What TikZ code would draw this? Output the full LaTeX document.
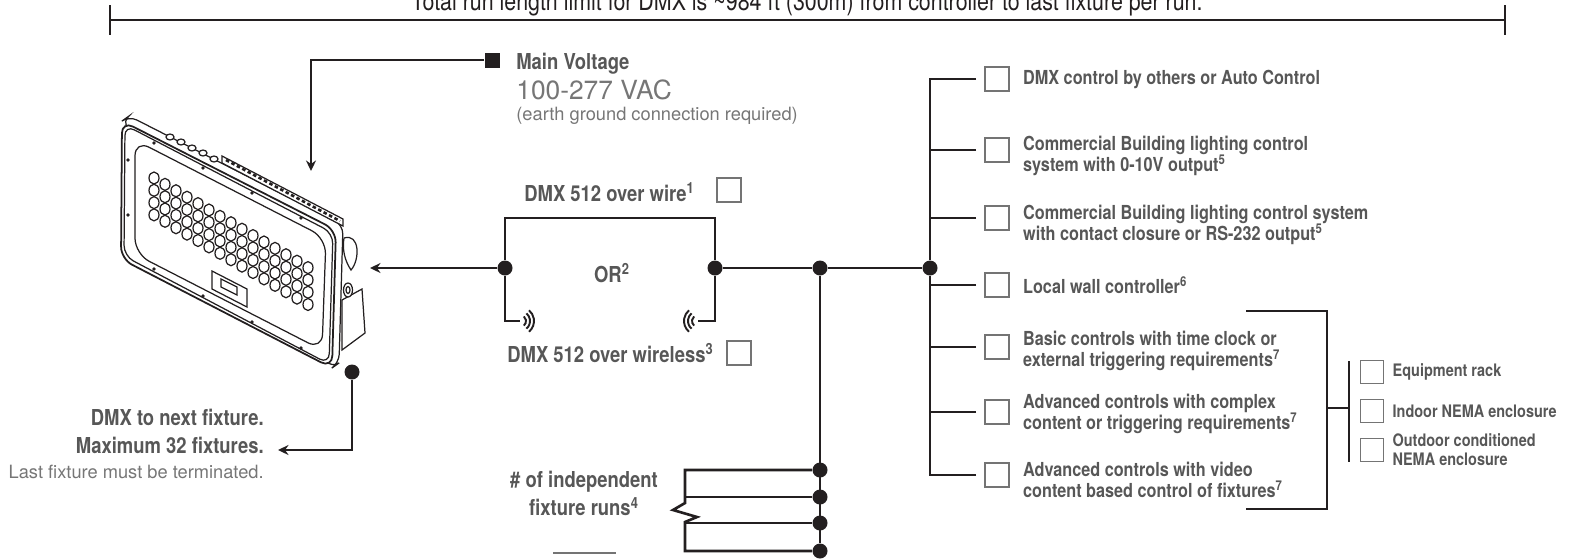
\documentclass[tikz,border=0pt]{standalone}
\usepackage{fontspec}
\setmainfont{TeX Gyre Heros}
\newfontfamily\cnd[FakeStretch=0.84]{TeX Gyre Heros}
\usetikzlibrary{positioning,arrows.meta}
\definecolor{ink}{HTML}{231F20}
\definecolor{labelgray}{HTML}{575757}
\definecolor{softgray}{HTML}{767676}
\definecolor{boxgray}{HTML}{747474}

\begin{document}
\begin{tikzpicture}[x=0.02cm, y=-0.02cm, >={Stealth[length=0.21cm,width=0.2cm]},
  wire/.style={draw=ink, line width=1.5pt},
  junction/.style={circle, fill=ink, inner sep=0pt, minimum size=0.3cm},
  chk/.style={draw=boxgray, line width=0.9pt, fill=white, inner sep=0pt, minimum size=0.48cm},
  smallchk/.style={chk, minimum size=0.46cm},
  lbl/.style={text=labelgray, font=\cnd\bfseries\fontsize{12.5}{16}\selectfont, inner sep=0pt},
  listtext/.style={text=labelgray, font=\cnd\bfseries\fontsize{11}{12}\selectfont, inner sep=0pt, align=left},
  subtext/.style={text=labelgray, font=\cnd\bfseries\fontsize{9.8}{10.8}\selectfont, inner sep=0pt, align=left},
  lighttext/.style={text=softgray, font=\fontsize{10.4}{12}\selectfont, inner sep=0pt},
  fixline/.style={draw=ink, line width=0.7pt}]
\useasboundingbox (0,0) rectangle (1572,559);

\node [text=ink, font=\cnd\fontsize{14.5}{16}\selectfont, inner sep=0pt, anchor=base] (runlen) at (807,10.5) {Total run length limit for DMX is \textasciitilde984 ft (300m) from controller to last fixture per run.};
\coordinate (runL) at (110,20); \coordinate (runR) at (1505,20);
\draw [wire] (runL) -- (runR); \draw [wire] (110,5) -- (110,35); \draw [wire] (1505,5) -- (1505,35);

\begin{scope}[fixline]
\draw [fill=white, rounded corners=5] (129,116) -- (343,225) -- (339,363) -- (332,368) -- (122,121) -- cycle;
\foreach \p in {(170,137),(181,142),(192,148),(203,153),(214,159)} \draw [fill=white] \p ellipse [x radius=4, y radius=3];
\draw [fill=white] (222,156) -- (343,219) -- (343,226) -- (222,163) -- cycle;
\draw [dash pattern=on 2pt off 1.5pt, line width=1.5pt] (226,160) -- (340,221);
\draw [fill=white, rounded corners=7, line width=1pt] (122,121) -- (336,230) -- (332,368) -- (121,259) -- cycle;
\draw [rounded corners=6] (125,125) -- (333,233) -- (329,364) -- (124,256) -- cycle;
\draw [rounded corners=9] (135,140) -- (326,238) -- (322,350) -- (135,254) -- cycle;
\foreach \p in {(154,143),(203,168),(252,193),(301,218),(128,160),(128,215),(154,269),(203,296),(252,322),(301,348)} \fill [ink] \p circle (1.8);
\foreach \c in {0,...,14} \foreach \r in {0,...,3} \draw (154+11*\c, 178+6.4*\c+12.3*\r) ellipse [x radius=5, y radius=6];
\draw (212,271) -- (247,289) -- (247,307) -- (212,289) -- cycle;
\draw (221,279) -- (237,287) -- (237,295) -- (221,287) -- cycle;
\draw (344,238) .. controls (360,233) and (360,260) .. (351,270) .. controls (345,261) and (342,250) .. (344,238);
\draw [fill=white] (342,300) -- (362,289) -- (365,333) -- (342,350) -- cycle;
\draw [fill=white] (348,290) ellipse [x radius=4.5, y radius=7]; \draw (348,290) ellipse [x radius=2, y radius=3.5];
\end{scope}

\node [fill=ink, inner sep=0pt, minimum size=0.3cm] (mains) at (492,60) {};
\node [lbl, anchor=base west] (mainlbl) at (516,69) {Main Voltage};
\node [text=softgray, font=\fontsize{15}{17}\selectfont, inner sep=0pt, anchor=base west] (vac) at (516,99) {100-277 VAC};
\node [lighttext, anchor=base west] (earth) at (516,120) {(earth ground connection required)};
\coordinate (psu) at (311,171);
\draw [wire,->] (mains) -| (psu);

\node [junction] (wl) at (505,268) {}; \node [junction] (wr) at (715,268) {};
\node [junction] (bus1) at (820,268) {}; \node [junction] (bus2) at (930,268) {};
\coordinate (dmxin) at (370,268);
\draw [wire,->] (wl) -- (dmxin);
\draw [wire] (wl) -- ++(0,-50) -| (wr);
\draw [wire] (wr) -- (bus1) -- (bus2);
\coordinate (txl) at (520,321); \coordinate (txr) at (698,321);
\draw [wire] (wl) |- (txl); \draw [wire] (wr) |- (txr);
\foreach \r in {6,10,14} \draw [ink, line width=1.1pt] (txl) ++(50:\r) arc (50:-50:\r);
\foreach \r in {6,10,14} \draw [ink, line width=1.1pt] (txr) ++(130:\r) arc (130:230:\r);
\node [lbl, anchor=base west] (overwire) at (524,201) {DMX 512 over wire\textsuperscript{1}};
\node [chk] (wirechk) at (729,190) {};
\node [lbl, anchor=base] (orlbl) at (612,282) {OR\textsuperscript{2}};
\node [lbl, anchor=base west] (overair) at (507,362) {DMX 512 over wireless\textsuperscript{3}};
\node [chk] (airchk) at (739,353) {};

\node [junction] (r1) at (820,470) {}; \node [junction] (r2) at (820,497) {};
\node [junction] (r3) at (820,523) {}; \node [junction] (r4) at (820,551) {};
\draw [wire] (bus1) -- (r4);
\draw [wire] (r1) -- (685,470) -- (685,503) -- ++(-12,7) -- ++(24,7) -- ++(-12,5) -- (685,551) -- (r4);
\draw [wire] (r2) -- (685,497); \draw [wire] (r3) -- (685,523);
\node [lbl, align=center, anchor=north] (runs) at (584,471) {\# of independent\\fixture runs\textsuperscript{4}};
\draw [boxgray, line width=1.5pt] (553,553) -- (616,553);

\node [junction] (out) at (352,372) {};
\coordinate (nextrun) at (278,450);
\draw [wire,->] (out) |- (nextrun);
\node [lbl, anchor=base east] (nextfix) at (264,425) {DMX to next fixture.};
\node [lbl, anchor=base east] (maxfix) at (264,453) {Maximum 32 fixtures.};
\node [lighttext, anchor=base east] (term) at (264,478) {Last fixture must be terminated.};

\node [chk] (c1) at (997,79) {}; \node [chk] (c2) at (997,150) {};
\node [chk] (c3) at (997,218) {}; \node [chk] (c4) at (997,285) {};
\node [chk] (c5) at (997,347) {}; \node [chk] (c6) at (997,412) {};
\node [chk] (c7) at (997,475) {};
\draw [wire, shorten <=0.16cm] (c1.west) -| (bus2);
\draw [wire, shorten <=0.16cm] (c7.west) -| (bus2);
\draw [wire, shorten <=0.16cm] (c2.west) -- (c2.west -| bus2);
\draw [wire, shorten <=0.16cm] (c3.west) -- (c3.west -| bus2);
\draw [wire, shorten <=0.16cm] (c4.west) -- (c4.west -| bus2);
\draw [wire, shorten <=0.16cm] (c5.west) -- (c5.west -| bus2);
\draw [wire, shorten <=0.16cm] (c6.west) -- (c6.west -| bus2);
\node [listtext, right=0.26cm of c1] (t1) {DMX control by others or Auto Control};
\node [listtext, right=0.26cm of c2, yshift=-0.11cm] (t2) {Commercial Building lighting control\\system with 0-10V output\textsuperscript{5}};
\node [listtext, right=0.26cm of c3, yshift=-0.13cm] (t3) {Commercial Building lighting control system\\with contact closure or RS-232 output\textsuperscript{5}};
\node [listtext, right=0.26cm of c4] (t4) {Local wall controller\textsuperscript{6}};
\node [listtext, right=0.26cm of c5, yshift=-0.07cm] (t5) {Basic controls with time clock or\\external triggering requirements\textsuperscript{7}};
\node [listtext, right=0.26cm of c6, yshift=-0.04cm] (t6) {Advanced controls with complex\\content or triggering requirements\textsuperscript{7}};
\node [listtext, right=0.26cm of c7, yshift=-0.1cm] (t7) {Advanced controls with video\\content based control of fixtures\textsuperscript{7}};

\coordinate (grpT) at (1246,311); \coordinate (grpB) at (1246,509);
\draw [wire] (grpT) -- (1327,311) -- (1327,509) -- (grpB);
\coordinate (grp) at (1327,408); \coordinate (encl) at (1349,408);
\draw [wire] (grp) -- (encl); \draw [wire] (1349,361) -- (1349,462);
\node [smallchk] (e1) at (1372,372) {}; \node [smallchk] (e2) at (1372,411) {}; \node [smallchk] (e3) at (1372,450) {};
\node [subtext, right=0.16cm of e1] (s1) {Equipment rack};
\node [subtext, right=0.16cm of e2] (s2) {Indoor NEMA enclosure};
\node [subtext, right=0.16cm of e3] (s3) {Outdoor conditioned\\NEMA enclosure};
\end{tikzpicture}
\end{document}
